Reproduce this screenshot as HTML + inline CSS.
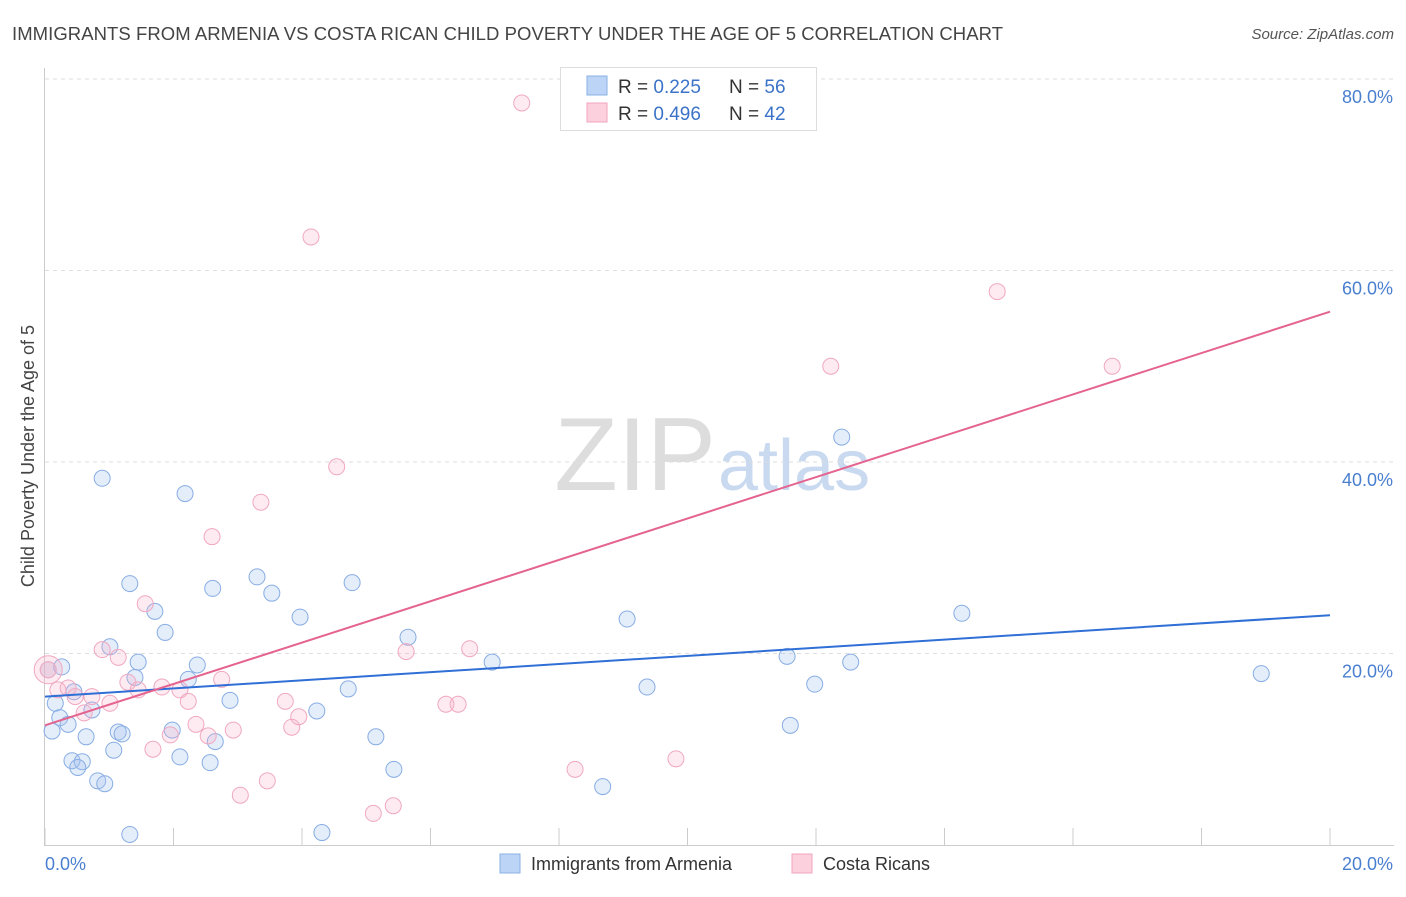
<!DOCTYPE html>
<html><head><meta charset="utf-8"><style>
body{margin:0;background:#fff;font-family:"Liberation Sans",sans-serif;}
svg text{font-family:"Liberation Sans",sans-serif;}
</style></head><body>
<svg id="c" width="1406" height="892">
<text x="12" y="40" font-size="18.5" fill="#444" textLength="991">IMMIGRANTS FROM ARMENIA VS COSTA RICAN CHILD POVERTY UNDER THE AGE OF 5 CORRELATION CHART</text>
<text x="1394" y="39" font-size="15" fill="#555" font-style="italic" text-anchor="end">Source: ZipAtlas.com</text>
<text x="716" y="490" font-size="104" fill="#ddd" text-anchor="end" font-family="Liberation Serif">ZIP</text>
<text x="718" y="490" font-size="72" fill="#c9d9f0">atlas</text>
<g id="grid"></g><g id="pts"></g><g id="lines"></g>
<text transform="translate(34,456) rotate(-90)" font-size="18" fill="#444" text-anchor="middle">Child Poverty Under the Age of 5</text>
<text x="45" y="870" font-size="18" fill="#4a7fd0">0.0%</text>
<text x="1393" y="870" font-size="18" fill="#4a7fd0" text-anchor="end">20.0%</text>
<g>
<rect x="560.5" y="67.5" width="256" height="63" fill="#fff" stroke="#ddd"/>
<rect x="587" y="76" width="20" height="19" fill="#bcd4f5" stroke="#8ab0e6"/>
<rect x="587" y="103" width="20" height="19" fill="#fcd0dd" stroke="#f2a5bd"/>
<text x="618" y="93" font-size="19" fill="#333">R = <tspan fill="#3b73c8">0.225</tspan></text>
<text x="729" y="93" font-size="19" fill="#333">N = <tspan fill="#3b73c8">56</tspan></text>
<text x="618" y="120" font-size="19" fill="#333">R = <tspan fill="#3b73c8">0.496</tspan></text>
<text x="729" y="120" font-size="19" fill="#333">N = <tspan fill="#3b73c8">42</tspan></text>
</g>
<g>
<rect x="500" y="854" width="20" height="19" fill="#bcd4f5" stroke="#8ab0e6"/>
<text x="531" y="870" font-size="18" fill="#333">Immigrants from Armenia</text>
<rect x="792" y="854" width="20" height="19" fill="#fcd0dd" stroke="#f2a5bd"/>
<text x="823" y="870" font-size="18" fill="#333">Costa Ricans</text>
</g>
</svg>
<script>
const blueX=[0.05,0.26,0.16,0.23,0.36,0.11,0.45,0.73,0.64,0.42,0.58,0.51,0.82,0.93,0.89,1.32,1.01,1.45,1.40,1.14,1.20,1.07,1.32,1.71,1.87,2.18,2.37,2.23,1.98,2.10,2.61,2.88,2.65,2.57,3.30,3.53,3.97,4.23,4.31,4.78,4.72,5.15,5.43,5.65,6.96,8.68,9.06,9.37,11.55,11.98,11.60,12.40,12.54,14.27,18.93];
const blueY=[18.3,18.6,14.8,13.3,12.6,11.9,16.0,14.1,11.3,8.8,8.7,8.1,6.7,6.4,38.3,27.3,20.7,19.1,17.5,11.8,11.6,9.9,1.1,24.4,22.2,36.7,18.8,17.3,12.0,9.2,26.8,15.1,10.8,8.6,28.0,26.3,23.8,14.0,1.3,27.4,16.3,11.3,7.9,21.7,19.1,6.1,23.6,16.5,19.7,16.8,12.5,42.6,19.1,24.2,17.9];
const pinkX=[0.05,0.20,0.36,0.47,0.61,0.73,1.01,0.89,1.14,1.29,1.45,1.56,1.68,1.82,1.95,2.10,2.23,2.35,2.54,2.60,2.75,2.93,3.04,3.36,3.46,3.74,3.84,3.95,4.14,4.54,5.11,5.42,5.62,6.24,6.43,6.61,7.42,8.25,9.82,12.23,14.82,16.61];
const pinkY=[18.3,16.2,16.4,15.5,13.8,15.5,14.8,20.4,19.6,17.0,16.2,25.2,10.0,16.5,11.5,16.2,15.0,12.6,11.4,32.2,17.3,12.0,5.2,35.8,6.7,15.0,12.3,13.4,63.5,39.5,3.3,4.1,20.2,14.7,14.7,20.5,77.5,7.9,9.0,50.0,57.8,50.0];
const blueTrend=[15.5,24.0];
const pinkTrend=[12.5,55.7];
const yTicks=[20,40,60,80];
const xTickCount=10;
const X=v=>45+v/20*1285, Y=v=>845-v/20*191.5;
const NS='http://www.w3.org/2000/svg';
function mk(p,t,a){const e=document.createElementNS(NS,t);for(const k in a)e.setAttribute(k,a[k]);document.getElementById(p).appendChild(e);return e;}
let ax=mk('grid','line',{x1:44.5,y1:68,x2:44.5,y2:845,stroke:'#ccc'});


let bx=mk('grid','line',{x1:44,y1:845.5,x2:1394,y2:845.5,stroke:'#ccc'});


yTicks.forEach(t=>{
 const g=mk('grid','line',{x1:45,x2:1394,y1:Y(t),y2:Y(t),stroke:'#ddd','stroke-dasharray':'4,4'});
 
 
 const l=mk('grid','text',{x:1393,y:Y(t)+24,'font-size':18,fill:'#4a7fd0','text-anchor':'end'});
 l.textContent=t.toFixed(1)+'%';
 
 
});
for(let i=0;i<=xTickCount;i++){
 const x=X(i*20/xTickCount);
 const t=mk('grid','line',{x1:x,x2:x,y1:828,y2:845,stroke:'#ccc'});
 
 
}
function pts(xs,ys,fill,stroke,name){
 xs.forEach((v,i)=>{
  const c=mk('pts','circle',{cx:X(v),cy:Y(ys[i]),r:8,fill:fill,stroke:stroke,'stroke-width':1});
  
  
 });
}
pts(blueX,blueY,'rgba(165,195,240,0.3)','#88ade4','armenia-point');
pts(pinkX,pinkY,'rgba(248,175,198,0.25)','#f0a8c0','costa-rican-point');
const big=mk('pts','circle',{cx:X(0.05),cy:Y(18.3),r:14,fill:'rgba(248,175,198,0.25)',stroke:'#f0a8c0'});


const bl=mk('lines','line',{x1:X(0),y1:Y(blueTrend[0]),x2:X(20),y2:Y(blueTrend[1]),stroke:'#2f6fd6','stroke-width':2});


const pl=mk('lines','line',{x1:X(0),y1:Y(pinkTrend[0]),x2:X(20),y2:Y(pinkTrend[1]),stroke:'#e4638f','stroke-width':2});


</script>
</body></html>
